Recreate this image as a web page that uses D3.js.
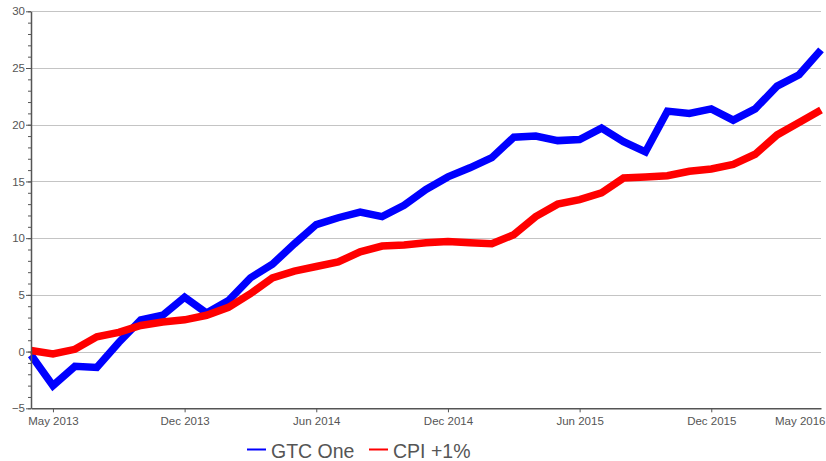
<!DOCTYPE html>
<html>
<head>
<meta charset="utf-8">
<script src="https://cdn.jsdelivr.net/npm/d3@7"></script>
<style>
  body { margin: 0; background: #fff; }
  svg { display: block; font-family: "Liberation Sans", Arial, sans-serif; }
</style>
</head>
<body>
<div class="chart"></div>
<script>
// monthly points, index 0..36
let gtcOne = [-0.3, -3.0, -1.3, -1.4, 0.8, 2.8, 3.2, 4.8, 3.4, 4.5, 6.5, 7.7,
  9.5, 11.2, 11.8, 12.3, 11.9, 12.9, 14.3, 15.4, 16.2, 17.1, 18.9, 19.0,
  18.6, 18.7, 19.7, 18.5, 17.6, 21.2, 21.0, 21.4, 20.4, 21.4, 23.4, 24.4, 26.6];
let cpiPlus1 = [0.1, -0.2, 0.2, 1.3, 1.7, 2.3, 2.6, 2.8, 3.2, 3.9, 5.1, 6.5,
  7.1, 7.5, 7.9, 8.8, 9.3, 9.4, 9.6, 9.7, 9.6, 9.5, 10.3, 11.9,
  13.0, 13.4, 14.0, 15.3, 15.4, 15.5, 15.9, 16.1, 16.5, 17.4, 19.1, 20.2, 21.3];
let tickIndex = [1, 7, 13, 19, 25, 31, 36];
let tickLabels = ["May 2013", "Dec 2013", "Jun 2014", "Dec 2014", "Jun 2015", "Dec 2015", "May 2016"];
let yTicks = [-5, 0, 5, 10, 15, 20, 25, 30];
let seriesNames = ["GTC One", "CPI +1%"];
let seriesColors = ["#0000ff", "#ff0000"];

let svgWidth = 826;
let svgHeight = 461;

let svg = d3.select(".chart")
  .append("svg")
  .attr("width", svgWidth)
  .attr("height", svgHeight);

let xScale = d3.scaleLinear()
  .domain([0, gtcOne.length - 1])
  .range([31, 821]);

let yScale = d3.scaleLinear()
  .domain([-5, 30])
  .range([408.3, 11.3]);

// horizontal grid
svg.append("g")
  .selectAll("line")
  .data(yTicks.filter(d => d > -5))
  .enter()
  .append("line")
  .attr("x1", xScale(0))
  .attr("x2", xScale(gtcOne.length - 1))
  .attr("y1", d => Math.round(yScale(d)) + 0.5)
  .attr("y2", d => Math.round(yScale(d)) + 0.5)
  .attr("stroke", "#c4c4c4")
  .attr("stroke-width", 1.2);

// lines
let line = d3.line()
  .x((d, i) => xScale(i))
  .y(d => yScale(d));

[gtcOne, cpiPlus1].forEach(function(series, k) {
  svg.append("path")
    .datum(series)
    .attr("fill", "none")
    .attr("stroke", seriesColors[k])
    .attr("stroke-width", 7.5)
    .attr("stroke-linejoin", "miter")
    .attr("d", line);
});

// y axis with minor ticks
let minorAxis = d3.axisLeft(yScale)
  .ticks(35)
  .tickSize(3)
  .tickFormat("");
svg.append("g")
  .attr("transform", "translate(31,0)")
  .call(minorAxis)
  .call(g => g.select(".domain").remove())
  .selectAll("line").attr("stroke", "#555");

let leftAxis = d3.axisLeft(yScale)
  .tickValues(yTicks)
  .tickSize(5)
  .tickPadding(1)
  .tickSizeOuter(0);
let yAxisG = svg.append("g")
  .attr("transform", "translate(31,0)")
  .call(leftAxis);
yAxisG.select(".domain").attr("stroke", "#555").attr("stroke-width", 1.5);
yAxisG.selectAll("line").attr("stroke", "#555");
yAxisG.selectAll("text")
  .attr("fill", "#555")
  .style("font-size", "11.5px");

// x axis
let bottomAxis = d3.axisBottom(xScale)
  .tickValues(tickIndex)
  .tickFormat((d, i) => tickLabels[i])
  .tickSize(4)
  .tickPadding(5)
  .tickSizeOuter(0);
let xAxisG = svg.append("g")
  .attr("transform", `translate(0, ${yScale(-5)})`)
  .call(bottomAxis);
xAxisG.select(".domain").attr("stroke", "#555").attr("stroke-width", 1.5);
xAxisG.selectAll("line").attr("stroke", "#555");
xAxisG.selectAll("text")
  .attr("fill", "#555")
  .style("font-size", "11.5px");
// last label has no tick and is pulled in
let lastTick = xAxisG.selectAll(".tick").filter((d, i) => i === tickIndex.length - 1);
lastTick.select("line").remove();
lastTick.select("text").attr("text-anchor", "end").attr("x", 4);

// legend
let legend = svg.append("g")
  .attr("transform", "translate(247, 458)");
let legendX = [0, 122];
seriesNames.forEach(function(name, k) {
  let item = legend.append("g")
    .attr("transform", `translate(${legendX[k]}, 0)`);
  item.append("line")
    .attr("x1", 0)
    .attr("x2", 19)
    .attr("y1", -8.5)
    .attr("y2", -8.5)
    .attr("stroke", seriesColors[k])
    .attr("stroke-width", 2);
  item.append("text")
    .attr("x", 24)
    .attr("fill", "#555")
    .style("font-size", "19.5px")
    .text(name);
});
</script>
</body>
</html>
